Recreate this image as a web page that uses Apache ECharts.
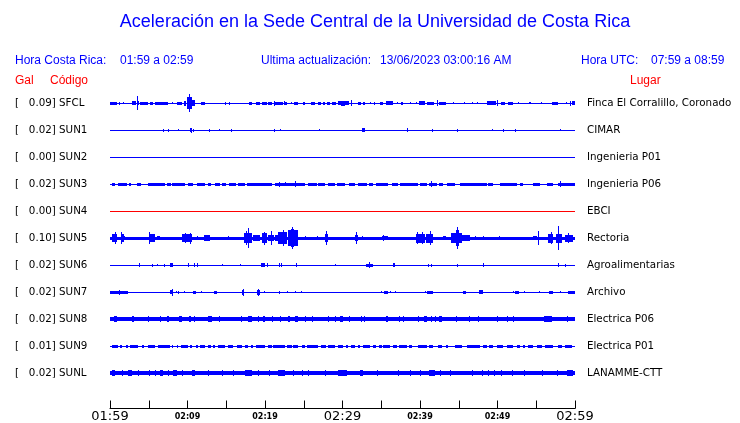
<!DOCTYPE html>
<html>
<head>
<meta charset="utf-8">
<script src="https://cdn.jsdelivr.net/npm/echarts@6/dist/echarts.min.js"></script>
<style>html,body{margin:0;padding:0;background:#fff}#c{width:740px;height:423px}</style>
</head>
<body>
<div id="c"></div>
<script>
// ---------------- DATA ----------------
const codes = ['SFCL','SUN1','SUN2','SUN3','SUN4','SUN5','SUN6','SUN7','SUN8','SUN9','SUNL'];
const galMax = [0.09,0.02,0.00,0.02,0.00,0.10,0.02,0.02,0.02,0.01,0.02];
const places = ['Finca El Corralillo, Coronado','CIMAR','Ingenieria P01','Ingenieria P06','EBCI','Rectoria','Agroalimentarias','Archivo','Electrica P06','Electrica P01','LANAMME-CTT'];
const tickLabels = ['01:59','02:09','02:19','02:29','02:39','02:49','02:59']; // every 10 min
// background (noise) half-amplitude of each trace, hundredths of Gal
const baseAmp = [0.5,0.5,0.5,0.5,0.5,1.5,0.5,0.5,2,0.5,2];
// bursts: [start minute, end minute, half-amplitude (hundredths of Gal)], minutes after 01:59
const sfcl = [[0,0.9,1.5],[1.2,1.2,1.5],[1.7,1.7,1],[2.8,3.4,2],[3.53,3.53,7],[3.6,3.7,2],[3.9,4.9,1.5],[5.1,5.6,1.2],[5.8,6.8,1.5],[6.9,7.5,1.5],[8,8.1,1],[8.7,9.3,1.5],[9.5,9.8,2.5],[9.9,10.6,6],[10.24,10.24,9],[10.6,11,3],[11.8,12.2,1.5],[14.8,15,1.2],[15.3,15.5,1.2],[17.9,18.3,1.5],[18.9,19.4,1.5],[19.6,20.2,1.5],[20.4,20.9,1.5],[21.1,21.1,2.5],[21.2,22.3,1.5],[22.45,22.45,2],[22.5,22.8,1.2],[23.3,23.4,1],[23.8,24.2,1.5],[24.9,25.2,1.5],[25.9,26.5,1.5],[26.8,27.2,1.2],[27.5,27.7,1.2],[28,28.4,1.2],[28.7,29.2,1.5],[29.4,30.9,2],[29.8,30.3,2.5],[31.1,31.2,3],[32.0,32.4,1.5],[32.7,32.9,1.5],[33.5,33.5,1],[34.0,34.0,1.2],[34.8,35.2,1.5],[35.6,36.5,2],[37.0,37.1,1],[37.5,37.8,1.5],[38.7,38.7,1],[39.5,39.5,1],[39.9,40.6,2],[40.9,41.8,1.5],[42.15,42.15,3],[42.4,43.4,1.2],[44.3,44.3,1],[45.7,45.7,1],[46.7,46.7,1],[47.4,47.4,1],[48.6,49.8,2],[49.9,49.9,3],[50.5,51,1.5],[51.3,52,1.5],[52.7,52.7,1],[54.0,54.3,1],[55.6,55.6,1],[57.0,57.8,1.5],[58.8,58.9,1],[59.3,59.4,2.5],[59.6,60,2]];
const sun1 = [[6.88,6.88,1.5],[7.44,7.44,1.5],[8.73,8.73,1],[10.3,10.6,2],[10.45,10.45,2.5],[10.75,10.75,1.5],[12.8,12.8,1.5],[14.1,14.1,1],[15.66,15.66,1.5],[21.2,21.2,1.5],[21.97,21.97,1],[27.0,27.0,1],[32.5,32.9,2],[38.3,38.5,2],[41.5,41.5,1.5],[44.8,44.8,1.5],[49.25,49.25,1],[50.75,50.75,1.5],[52.2,52.2,1.5],[58.0,58.0,1]];
const sun2 = [];
const sun3 = [[0.22,0.65,1.5],[0.99,2.15,1.5],[2.45,2.71,1.5],[3.44,4.0,1.5],[4.86,7.1,1.5],[7.31,7.87,1.5],[7.96,9.68,1.5],[10.02,10.75,1.5],[11.18,12.26,1.5],[12.69,13.03,1.5],[13.55,14.19,1.5],[14.49,14.92,1.5],[15.35,16.2,1.5],[16.47,17.42,1.5],[17.63,20.86,1.5],[21.29,25.16,1.5],[21.85,21.85,2.5],[22.6,22.6,2],[23.9,23.9,3],[25.59,26.67,1.5],[26.88,27.74,1.5],[28.09,29.03,1.5],[29.25,30.32,1.5],[30.88,31.62,1.5],[32.05,33.12,1.5],[33.46,33.98,1.5],[34.33,35.92,1.5],[36.35,37.21,1.5],[37.42,39.79,1.5],[40.0,40.86,1.5],[41.21,42.15,1.5],[41.38,41.38,3],[42.41,43.0,1.5],[43.44,44.52,1.5],[45.16,48.6,1.5],[48.82,49.46,1.5],[50.32,52.48,1.5],[52.91,53.34,1.5],[54.63,55.49,1.5],[56.35,57.21,1.5],[57.85,60,1.5],[58.07,58.07,3]];
const sun4 = [];
const sun5 = [[0.3,0.9,4],[0.65,0.65,6],[1.4,1.75,4],[1.46,1.46,6],[1.75,1.9,2],[5.0,5.8,4],[5.07,5.07,6],[6.0,6.45,2],[9.3,10.6,4],[9.65,9.65,5],[10.3,10.3,5.5],[11.2,11.2,2],[12.1,12.9,3],[15.27,15.27,2],[17.3,18.3,5],[17.6,17.6,7],[17.85,17.85,10],[18.5,19.35,3],[19.65,20.2,5],[19.9,19.9,6.5],[20.4,21.1,3],[20.77,20.77,7],[21.3,21.7,3],[21.72,22.8,6],[22.3,22.3,8],[23.0,24.3,8],[23.3,23.8,9],[23.5,23.5,11],[25.16,25.16,2],[26.67,26.67,2],[27.8,28.1,4],[27.9,27.9,7],[31.6,32.05,3],[31.74,31.74,6],[32.48,32.48,2],[33.77,33.77,1.5],[35.06,35.92,2],[35.2,35.2,3],[39.49,40.65,4.5],[39.66,39.66,6],[40.2,40.2,6],[40.78,41.64,4.5],[41.3,41.3,7],[43.0,43.35,2],[44.0,45.4,5],[44.6,45.0,8],[44.82,44.82,11],[45.4,46.5,3],[47.1,47.1,2],[48.1,48.1,2],[50.24,50.24,2],[54.54,55.06,2],[55.27,55.27,7],[56.56,57.21,4.5],[56.85,56.85,6],[57.55,58.29,4.5],[57.85,57.85,12],[58.7,59.78,3.5],[59.05,59.05,5]];
const sun6 = [[3.8,3.8,2],[5.38,5.38,1.5],[6.03,6.03,1],[7.0,7.0,1.5],[7.72,8.15,2],[10.0,10.05,2],[10.8,10.9,2],[11.2,11.4,2],[14.4,14.4,1],[16.8,16.8,1],[19.5,20.0,2],[20.2,20.4,2],[21.85,21.85,2],[22.06,22.06,2],[24.0,24.0,2],[29.0,29.0,1],[33.0,33.9,1.5],[33.47,33.47,3],[36.56,36.77,2],[41.08,41.08,1.5],[41.42,41.42,1.5],[44.82,44.82,1.5],[48.1,48.25,2],[57.85,57.85,2],[58.76,58.76,1.5]];
const sun7 = [[0,2.28,1.5],[1.16,1.16,2.5],[7.74,8.17,2],[7.96,7.96,3.5],[8.47,8.47,1],[8.73,8.73,1.5],[9.6,9.6,1],[10.67,11.05,1.5],[11.7,11.7,1],[13.46,13.76,1.5],[17.0,17.33,2.5],[17.16,17.16,3.5],[18.92,19.35,2.5],[19.14,19.14,3.5],[19.9,19.9,1],[21.85,21.85,1.5],[22.8,22.8,1],[23.87,23.87,1],[24.6,24.6,1],[34.93,34.93,1],[35.4,35.92,1.5],[36.13,36.13,1],[36.78,36.78,1],[40.65,40.65,1],[40.95,41.64,1.5],[45.6,45.94,1.5],[47.66,48.09,2],[51.96,51.96,1],[52.26,52.82,1.5],[53.47,53.47,1],[55.4,55.4,1],[56.69,57.12,1.5],[58.07,58.07,1],[59.14,60,1.5]];
const sun8 = [[0.56,0.86,3],[2.88,3.14,3],[4.95,4.95,3],[6.45,6.45,3],[7.31,7.61,3],[8.9,9.33,3],[10.2,10.45,3],[10.88,10.88,3],[12.69,13.12,3],[14.06,14.06,3],[16.9,16.9,3],[17.76,18.28,3],[19.05,19.05,3],[19.78,20.0,3],[20.95,20.95,3],[21.94,21.94,3],[22.92,23.23,3],[23.87,24.21,3],[25.16,25.16,3],[26.1,26.1,3],[28.09,28.09,3],[29.03,29.03,3],[29.68,30.11,3],[30.88,30.88,3],[32.35,32.35,3],[32.78,32.78,3],[35.62,35.92,3],[37.34,37.34,3],[37.85,37.85,3],[39.79,39.79,3],[40.52,40.95,3],[41.38,41.38,3],[41.94,41.94,3],[42.5,42.8,3],[44.65,44.65,3],[46.37,46.37,3],[47.53,47.53,3],[49.9,49.9,3],[51.19,51.19,3],[52.05,52.05,3],[56.0,56.99,3],[58.93,58.93,3]];
const sun9 = [[0.22,1.08,1.5],[1.29,1.5,1.5],[2.02,2.28,1.5],[2.58,3.66,1.5],[4.09,4.43,1.5],[4.86,5.81,1.5],[6.24,7.74,1.5],[7.96,8.17,1.5],[8.6,8.82,1.5],[9.16,10.11,1.5],[10.32,10.62,1.5],[11.05,11.4,1.5],[11.61,12.26,1.5],[12.69,13.03,1.5],[13.33,13.55,1.5],[13.98,14.84,1.5],[15.18,15.91,1.5],[16.34,17.08,1.5],[17.42,17.85,1.5],[18.19,18.49,1.5],[18.8,20.0,1.5],[20.43,20.86,1.5],[21.08,22.58,1.5],[22.8,23.44,1.5],[23.66,24.3,1.5],[24.73,25.16,1.5],[25.38,26.88,1.5],[27.22,27.83,1.5],[28.17,29.03,1.5],[29.38,30.11,1.5],[30.45,30.76,1.5],[31.06,31.62,1.5],[32.05,32.26,1.5],[32.69,33.55,1.5],[33.98,34.33,1.5],[34.76,35.06,1.5],[35.27,36.13,1.5],[36.56,36.99,1.5],[37.34,38.28,1.5],[38.63,38.93,1.5],[39.79,40.86,1.5],[41.21,41.72,1.5],[42.37,42.8,1.5],[43.36,43.66,1.5],[44.52,45.38,1.5],[46.02,47.74,1.5],[48.09,48.6,1.5],[48.95,49.46,1.5],[49.9,50.76,1.5],[51.19,52.05,1.5],[52.48,52.91,1.5],[53.25,53.55,1.5],[53.98,54.63,1.5],[55.06,55.7,1.5],[56.13,57.21,1.5],[57.85,58.28,1.5],[58.71,59.57,1.5]];
const sunl = [[0.22,0.65,3],[1.51,1.51,3],[2.37,2.8,3],[3.66,3.66,3],[5.08,5.08,3],[5.81,5.81,3],[6.45,6.88,3],[7.53,7.53,3],[8.17,8.6,3],[9.25,9.25,3],[10.62,10.97,3],[12.69,12.69,3],[14.41,14.41,3],[15.91,15.91,3],[17.42,18.28,3],[19.14,19.14,3],[20.52,20.52,3],[21.72,22.58,3],[23.66,23.66,3],[24.73,24.73,3],[25.59,25.59,3],[27.74,27.74,3],[29.46,30.54,3],[32.26,32.69,3],[34.41,34.41,3],[37.21,37.21,3],[38.71,38.71,3],[40.0,40.0,3],[41.21,41.94,3],[42.58,42.58,3],[43.87,43.87,3],[46.67,46.67,3],[47.96,47.96,3],[48.82,48.82,3],[49.55,49.55,3],[50.41,50.41,3],[51.83,51.83,3],[53.42,53.42,3],[55.7,55.7,3],[57.64,57.64,3],[58.93,59.79,3]];
const bursts = [sfcl,sun1,sun2,sun3,sun4,sun5,sun6,sun7,sun8,sun9,sunl];

// ---------------- STYLE ----------------
const BLUE = '#0000ff', RED = '#ff0000';
const traceColors = [BLUE,BLUE,BLUE,BLUE,RED,BLUE,BLUE,BLUE,BLUE,BLUE,BLUE];
const PX_PER_UNIT = 1; // 0.01 Gal -> 1 px

const chart = echarts.init(document.getElementById('c'), null, {renderer:'canvas'});

const series = codes.map((c, i) => ({
  type: 'custom',
  name: c,
  xAxisIndex: 0, yAxisIndex: 0,
  encode: {x: [0, 1], y: 2},
  silent: true,
  data: [[0, 60, i, baseAmp[i]]].concat(bursts[i].map(b => [b[0], b[1], i, b[2]])),
  renderItem: function (params, api) {
    const s = api.value(0), e = api.value(1), r = api.value(2), a = api.value(3);
    const p1 = api.coord([s, r]), p2 = api.coord([e, r]);
    const half = a * PX_PER_UNIT;
    const x1 = Math.round(p1[0]);
    const x2 = Math.max(x1 + 1, Math.round(p2[0]));
    const y1 = Math.round(p1[1] - half);
    const y2 = Math.max(y1 + 1, Math.round(p1[1] + half));
    return {type: 'rect', shape: {x: x1, y: y1, width: x2 - x1, height: y2 - y1}, style: {fill: traceColors[i]}};
  }
}));

const hdrFont = 'Liberation Sans, Arial, sans-serif';
function txt(x, y, t, color, size, align) {
  return {type: 'text', x: x, y: y, silent: true,
    style: {text: t, fill: color, font: size + 'px ' + hdrFont, textAlign: align || 'left', textVerticalAlign: 'middle'}};
}

chart.setOption({
  animation: false,
  backgroundColor: '#fff',
  grid: {left: 110, right: 165, top: 90, bottom: 36, containLabel: false},
  xAxis: {
    type: 'value', min: 0, max: 60, interval: 5, position: 'bottom', offset: 22,
    axisLine: {show: true, lineStyle: {color: '#000', width: 1}},
    axisTick: {show: true, inside: true, length: 8, lineStyle: {color: '#000'}},
    splitLine: {show: false},
    axisLabel: {
      margin: 1,
      formatter: function (v) {
        if (v % 10 !== 0) return '';
        const k = v / 10;
        return '{' + (k % 3 === 0 ? 'big' : 'small') + '|' + tickLabels[k] + '}';
      },
      rich: {
        big: {fontFamily: 'DejaVu Sans', fontSize: 13, color: '#000', lineHeight: 14},
        small: {fontFamily: 'DejaVu Sans', fontSize: 8, fontWeight: 'bold', color: '#000', lineHeight: 14}
      }
    }
  },
  yAxis: [{
    type: 'category', data: codes, inverse: true, position: 'left',
    axisLine: {show: false}, axisTick: {show: false}, splitLine: {show: false},
    axisLabel: {
      align: 'left', margin: 95, color: '#000', fontFamily: 'DejaVu Sans', fontSize: 10.3,
      formatter: function (v, idx) { return '[   ' + galMax[idx].toFixed(2) + '] ' + v; }
    }
  }, {
    type: 'category', data: places, inverse: true, position: 'right',
    axisLine: {show: false}, axisTick: {show: false}, splitLine: {show: false},
    axisLabel: {align: 'left', margin: 12, color: '#000', fontFamily: 'DejaVu Sans', fontSize: 10.3}
  }],
  graphic: [
    txt(375, 22, 'Aceleración en la Sede Central de la Universidad de Costa Rica', BLUE, 18, 'center'),
    txt(15, 61, 'Hora Costa Rica:', BLUE, 12),
    txt(120, 61, '01:59 a 02:59', BLUE, 12),
    txt(261, 61, 'Ultima actualización:', BLUE, 12),
    txt(380, 61, '13/06/2023 03:00:16 AM', BLUE, 12),
    txt(581, 61, 'Hora UTC:', BLUE, 12),
    txt(651, 61, '07:59 a 08:59', BLUE, 12),
    txt(15, 81, 'Gal', RED, 12),
    txt(50, 81, 'Código', RED, 12),
    txt(630, 81, 'Lugar', RED, 12)
  ],
  series: series
});
</script>
</body>
</html>
